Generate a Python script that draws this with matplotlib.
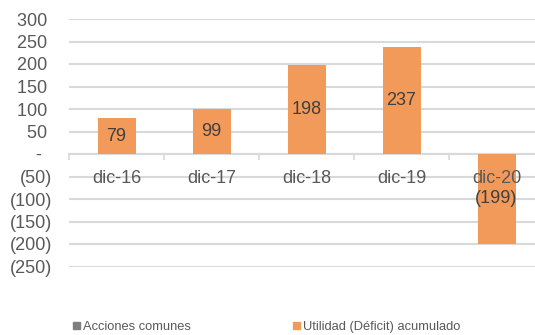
import matplotlib.pyplot as plt
from matplotlib.patches import Patch

plt.rcParams['font.family'] = ['Liberation Sans', 'DejaVu Sans']

categories = ['dic-16', 'dic-17', 'dic-18', 'dic-19', 'dic-20']
utilidad = [79, 99, 198, 237, -199]
y_ticks = [-250, -200, -150, -100, -50, 0, 50, 100, 150, 200, 250, 300]

BAR = '#F29A5A'
GRAY = '#7F7F7F'
TEXT = '#595959'
GRID = '#D9D9D9'


def fmt(v):
    # accounting style: negatives in parentheses, zero as a dash
    if v < 0:
        return '({:,.0f})'.format(-v)
    if v == 0:
        return '-  '
    return '{:,.0f} '.format(v)


fig = plt.figure(figsize=(5.35, 3.35), dpi=100)
ax = fig.add_axes([69 / 535, 68.5 / 335, 475 / 535, 247.5 / 335])

x = list(range(len(categories)))
ax.bar(x, utilidad, width=0.4, color=BAR, zorder=3)

ax.set_xlim(-0.5, len(categories) - 0.5)
ax.set_ylim(-250, 300)
ax.set_yticks(y_ticks)
ax.set_yticklabels([fmt(v) for v in y_ticks])
ax.tick_params(axis='y', length=0, pad=12, labelsize=13, labelcolor=TEXT)
ax.yaxis.grid(True, color=GRID, linewidth=1.5, zorder=0)

for s in ['left', 'right', 'top']:
    ax.spines[s].set_visible(False)
ax.spines['bottom'].set_position(('data', 0))
ax.spines['bottom'].set_color(GRID)
ax.spines['bottom'].set_linewidth(1.5)
ax.spines['bottom'].set_zorder(1)
ax.set_xticks([i - 0.5 for i in range(len(categories) + 1)])
ax.set_xticklabels([])
ax.tick_params(axis='x', length=4, width=1.2, color=GRID, direction='out')

# category names sit just under the zero line, above the bars
for i, c in enumerate(categories):
    ax.annotate(c, (i, 0), xytext=(0, -17.5), textcoords='offset points',
                ha='center', va='center', fontsize=13, color=TEXT, zorder=5)

# value labels in the middle of each bar
for i, v in enumerate(utilidad):
    ax.text(i, v / 2, fmt(v).strip(), ha='center', va='center',
            fontsize=13, color='#404040', zorder=5)

handles = [Patch(color=GRAY), Patch(color=BAR)]
fig.legend(handles, ['Acciones comunes', 'Utilidad (Déficit) acumulado'],
           loc='center left', bbox_to_anchor=(73 / 535, 8 / 335), ncol=2,
           frameon=False, fontsize=9.3, borderpad=0, borderaxespad=0,
           handlelength=0.55, handleheight=0.55, handletextpad=0.25,
           columnspacing=7.85, labelcolor=TEXT)

fig.savefig('out.png', dpi=100)
